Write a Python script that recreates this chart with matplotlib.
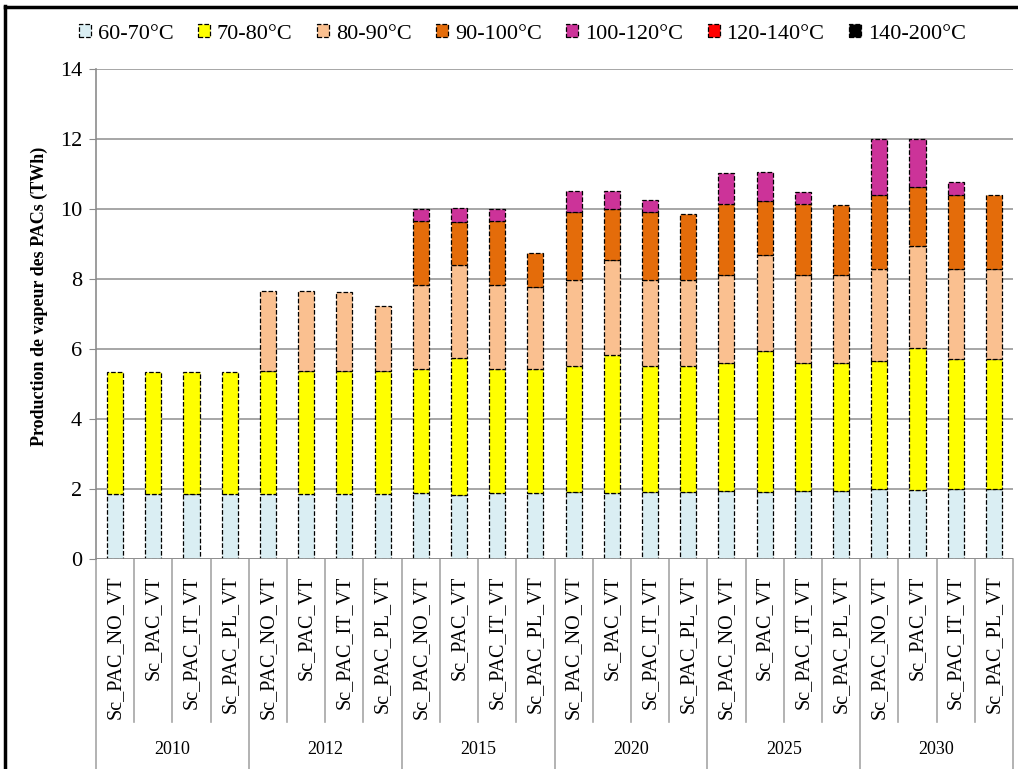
import numpy as np
import matplotlib.pyplot as plt
from matplotlib.patches import Patch
from matplotlib.lines import Line2D

plt.rcParams['font.family'] = ['Liberation Serif', 'DejaVu Serif']

years = ['2010', '2012', '2015', '2020', '2025', '2030']
scenarios = ['Sc_PAC_NO_VT', 'Sc_PAC_VT', 'Sc_PAC_IT_VT', 'Sc_PAC_PL_VT']
series_names = ['60-70°C', '70-80°C', '80-90°C', '90-100°C',
                '100-120°C', '120-140°C', '140-200°C']
series_colors = ['#DAEEF3', '#FFFF00', '#FAC090', '#E46C0A',
                 '#CC3399', '#FF0000', '#000000']

# TWh per temperature band, one value per (year, scenario)
t60_70 = [1.85, 1.85, 1.85, 1.85,
          1.85, 1.85, 1.85, 1.85,
          1.88, 1.84, 1.88, 1.88,
          1.91, 1.88, 1.91, 1.91,
          1.93, 1.90, 1.93, 1.93,
          2.00, 1.97, 2.00, 2.00]
t70_80 = [3.48, 3.48, 3.48, 3.48,
          3.52, 3.52, 3.52, 3.52,
          3.54, 3.91, 3.54, 3.54,
          3.60, 3.96, 3.60, 3.60,
          3.66, 4.03, 3.66, 3.66,
          3.66, 4.05, 3.70, 3.70]
t80_90 = [0, 0, 0, 0,
          2.30, 2.30, 2.27, 1.86,
          2.40, 2.64, 2.40, 2.36,
          2.45, 2.70, 2.45, 2.45,
          2.53, 2.76, 2.53, 2.53,
          2.62, 2.92, 2.58, 2.58]
t90_100 = [0, 0, 0, 0,
           0, 0, 0, 0,
           1.85, 1.25, 1.85, 0.97,
           1.94, 1.45, 1.94, 1.91,
           2.03, 1.55, 2.03, 2.00,
           2.11, 1.69, 2.11, 2.11]
t100_120 = [0, 0, 0, 0,
            0, 0, 0, 0,
            0.33, 0.40, 0.33, 0,
            0.60, 0.51, 0.37, 0,
            0.89, 0.82, 0.34, 0,
            1.62, 1.38, 0.38, 0]
t120_140 = [0] * 24
t140_200 = [0] * 24

series = [t60_70, t70_80, t80_90, t90_100, t100_120, t120_140, t140_200]

fig = plt.figure(figsize=(10.18, 7.69), dpi=100)
ax = fig.add_axes([0.0943, 0.2731, 0.9008, 0.6372])

n = len(years) * len(scenarios)
x = np.arange(n) + 0.5
bottom = np.zeros(n)
for vals, color in zip(series, series_colors):
    vals = np.asarray(vals, dtype=float)
    keep = vals > 0
    if keep.any():
        ax.bar(x[keep], vals[keep], width=0.42, bottom=bottom[keep],
               color=color, edgecolor='black', linestyle='--',
               linewidth=0.9, zorder=3)
    bottom += vals

ax.set_xlim(0, n)
ax.set_ylim(0, 14)
ax.set_yticks(np.arange(0, 15, 2))
ax.yaxis.grid(True, color='#a6a6a6', linewidth=1.4, zorder=0)
ax.tick_params(axis='y', direction='out', length=5, color='#8c8c8c',
               labelsize=16, pad=5)
ax.set_xticks([])
for side in ['top', 'right', 'bottom']:
    ax.spines[side].set_visible(False)
ax.spines['left'].set_color('#8c8c8c')
ax.spines['left'].set_linewidth(1.2)
ax.axhline(0, color='#8c8c8c', linewidth=1.2, zorder=4)

# two-level category axis below the plot
trans = ax.get_xaxis_transform()
for k in range(n + 1):
    depth = -0.43 if k % len(scenarios) == 0 else -0.333
    ax.plot([k, k], [0, depth], transform=trans, color='#a6a6a6',
            linewidth=1.2, clip_on=False)
for i in range(n):
    ax.text(x[i], -0.033, scenarios[i % len(scenarios)], transform=trans,
            rotation=90, ha='center', va='top', fontsize=14.5)
for g, year in enumerate(years):
    ax.text(g * len(scenarios) + len(scenarios) / 2, -0.389, year,
            transform=trans, ha='center', va='center', fontsize=13)

fig.text(0.039, 0.615, 'Production de vapeur des PACs (TWh)', rotation=90,
         ha='center', va='center', fontsize=13, fontweight='bold')

handles = [Patch(facecolor=c, edgecolor='black', linestyle='--', linewidth=0.9)
           for c in series_colors]
fig.legend(handles, series_names, loc='center', bbox_to_anchor=(0.513, 0.956),
           ncol=7, frameon=False, fontsize=16, handlelength=0.55,
           handleheight=0.55, handletextpad=0.3, columnspacing=1.1)

# frame around the whole chart
fig.add_artist(Line2D([0.005, 0.005], [0, 0.992], color='black', linewidth=2.5,
                      transform=fig.transFigure))
fig.add_artist(Line2D([0.005, 1.0], [0.991, 0.991], color='black', linewidth=2.5,
                      transform=fig.transFigure))

fig.savefig('out.png', dpi=100)
